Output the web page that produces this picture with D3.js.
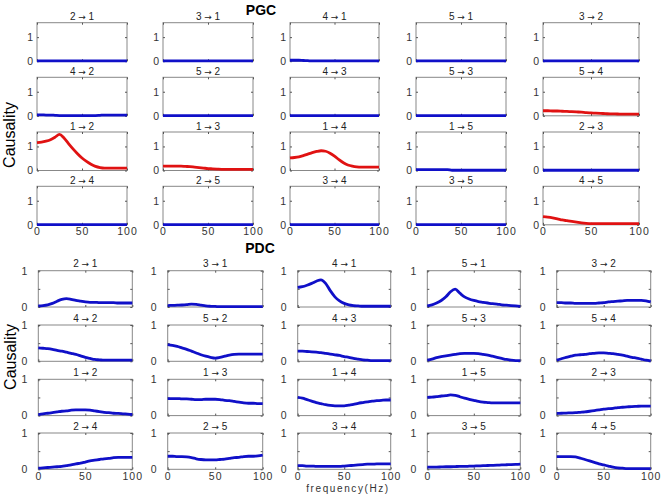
<!DOCTYPE html>
<html>
<head>
<meta charset="utf-8">
<script src="https://cdn.jsdelivr.net/npm/d3@7"></script>
<style>
  body { margin: 0; background: #fff; }
  svg { display: block; font-family: "Liberation Sans", Arial, sans-serif; }
</style>
</head>
<body>
<svg id="chart" width="661" height="496"></svg>
<script>
// ---------------- DATA ----------------
const freq = [0,5,10,15,20,25,30,35,40,45,50,55,60,65,70,75,80,85,90,95,100];

const pairs = [
  "2 → 1","3 → 1","4 → 1","5 → 1","3 → 2",
  "4 → 2","5 → 2","4 → 3","5 → 3","5 → 4",
  "1 → 2","1 → 3","1 → 4","1 → 5","2 → 3",
  "2 → 4","2 → 5","3 → 4","3 → 5","4 → 5"
];

const pgcXTicks = [0, 50, 100];
const pgcYTicks = [0, 1];
const pdcYTicks = [0, 0.5, 1];

// PGC: significant (red) connections
const pgcRed = ["5 → 4","1 → 2","1 → 3","1 → 4","4 → 5"];

const Z = 0.01;
const pgcValues = {
  "2 → 1": [Z,Z,Z,Z,Z,Z,Z,Z,Z,Z,Z,Z,Z,Z,Z,Z,Z,Z,Z,Z,Z],
  "3 → 1": [Z,Z,Z,Z,Z,Z,Z,Z,Z,Z,Z,Z,Z,Z,Z,Z,Z,Z,Z,Z,Z],
  "4 → 1": [0.04,0.04,0.04,0.03,0.02,Z,Z,Z,Z,Z,Z,Z,Z,Z,Z,Z,Z,Z,Z,Z,Z],
  "5 → 1": [Z,Z,Z,Z,Z,Z,Z,Z,Z,Z,Z,Z,Z,Z,Z,Z,Z,Z,Z,Z,Z],
  "3 → 2": [Z,Z,Z,Z,Z,Z,Z,Z,Z,Z,Z,Z,Z,Z,Z,Z,Z,Z,Z,Z,Z],
  "4 → 2": [0.04,0.04,0.03,0.03,0.02,Z,Z,Z,Z,Z,Z,Z,Z,Z,0.02,0.03,0.03,0.03,0.03,0.03,0.03],
  "5 → 2": [Z,Z,Z,Z,Z,Z,Z,Z,Z,Z,Z,Z,Z,Z,Z,Z,Z,Z,Z,Z,Z],
  "4 → 3": [Z,Z,Z,Z,Z,Z,Z,Z,Z,Z,Z,Z,Z,Z,Z,Z,Z,Z,Z,Z,Z],
  "5 → 3": [Z,Z,Z,Z,Z,Z,Z,Z,Z,Z,Z,Z,Z,Z,Z,Z,Z,Z,Z,Z,Z],
  "5 → 4": [0.21,0.21,0.2,0.2,0.19,0.18,0.17,0.16,0.15,0.13,0.12,0.11,0.1,0.09,0.08,0.08,0.07,0.07,0.07,0.07,0.07],
  "1 → 2": [1.16,1.18,1.22,1.28,1.38,1.5,1.35,1.12,0.9,0.7,0.52,0.38,0.26,0.17,0.12,0.1,0.1,0.1,0.1,0.1,0.1],
  "1 → 3": [0.18,0.18,0.18,0.18,0.18,0.17,0.16,0.14,0.12,0.1,0.08,0.07,0.06,0.05,0.05,0.05,0.05,0.05,0.05,0.05,0.05],
  "1 → 4": [0.52,0.54,0.57,0.62,0.68,0.74,0.79,0.82,0.8,0.72,0.6,0.45,0.32,0.23,0.18,0.15,0.14,0.14,0.14,0.14,0.14],
  "1 → 5": [0.04,0.04,0.04,0.04,0.04,0.04,0.04,0.04,Z,Z,Z,Z,Z,Z,Z,Z,Z,Z,Z,Z,Z],
  "2 → 3": [Z,Z,Z,Z,Z,Z,Z,Z,Z,Z,Z,Z,Z,Z,Z,Z,Z,Z,Z,Z,Z],
  "2 → 4": [Z,Z,Z,Z,Z,Z,Z,Z,Z,Z,Z,Z,Z,Z,Z,Z,Z,Z,Z,Z,Z],
  "2 → 5": [Z,Z,Z,Z,Z,Z,Z,Z,Z,Z,Z,Z,Z,Z,Z,Z,Z,Z,Z,Z,Z],
  "3 → 4": [Z,Z,Z,Z,Z,Z,Z,Z,Z,Z,Z,Z,Z,Z,Z,Z,Z,Z,Z,Z,Z],
  "3 → 5": [Z,Z,Z,Z,Z,Z,Z,Z,Z,Z,Z,Z,Z,Z,Z,Z,Z,Z,Z,Z,Z],
  "4 → 5": [0.34,0.32,0.29,0.25,0.2,0.17,0.14,0.11,0.08,0.06,0.05,0.05,0.05,0.05,0.05,0.05,0.05,0.05,0.05,0.05,0.05]
};

const pdcValues = {
  "2 → 1": [0.03,0.04,0.06,0.1,0.16,0.21,0.23,0.21,0.18,0.16,0.14,0.13,0.13,0.12,0.12,0.12,0.12,0.11,0.11,0.11,0.11],
  "3 → 1": [0.04,0.045,0.05,0.055,0.065,0.08,0.07,0.05,0.03,0.02,0.015,0.01,0.01,0.01,0.01,0.01,0.01,0.01,0.01,0.01,0.01],
  "4 → 1": [0.54,0.56,0.6,0.65,0.71,0.75,0.65,0.45,0.28,0.17,0.1,0.06,0.04,0.03,0.02,0.02,0.02,0.02,0.02,0.02,0.02],
  "5 → 1": [0.03,0.06,0.11,0.18,0.28,0.42,0.49,0.38,0.28,0.22,0.18,0.15,0.13,0.11,0.09,0.08,0.06,0.05,0.04,0.03,0.02],
  "3 → 2": [0.12,0.12,0.11,0.11,0.1,0.1,0.1,0.1,0.1,0.11,0.12,0.14,0.15,0.16,0.17,0.18,0.18,0.18,0.18,0.17,0.14],
  "4 → 2": [0.37,0.36,0.35,0.33,0.3,0.28,0.25,0.22,0.19,0.15,0.11,0.08,0.05,0.04,0.03,0.03,0.03,0.03,0.03,0.03,0.03],
  "5 → 2": [0.46,0.44,0.41,0.37,0.33,0.28,0.23,0.18,0.14,0.11,0.09,0.11,0.14,0.17,0.19,0.2,0.2,0.2,0.2,0.2,0.2],
  "4 → 3": [0.28,0.28,0.27,0.26,0.25,0.24,0.22,0.2,0.18,0.16,0.13,0.11,0.08,0.06,0.04,0.03,0.02,0.02,0.02,0.02,0.02],
  "5 → 3": [0.03,0.06,0.1,0.13,0.15,0.17,0.19,0.21,0.22,0.22,0.22,0.21,0.19,0.17,0.14,0.11,0.08,0.05,0.03,0.02,0.02],
  "5 → 4": [0.03,0.07,0.11,0.14,0.17,0.18,0.19,0.21,0.22,0.23,0.23,0.22,0.21,0.19,0.17,0.14,0.11,0.09,0.06,0.03,0.01],
  "1 → 2": [0.03,0.05,0.065,0.08,0.1,0.12,0.13,0.15,0.16,0.16,0.16,0.15,0.13,0.11,0.09,0.08,0.065,0.06,0.05,0.04,0.03],
  "1 → 3": [0.47,0.47,0.47,0.46,0.46,0.45,0.44,0.44,0.45,0.45,0.45,0.44,0.42,0.41,0.39,0.37,0.35,0.34,0.34,0.33,0.33],
  "1 → 4": [0.5,0.48,0.44,0.4,0.36,0.33,0.3,0.28,0.27,0.27,0.27,0.29,0.31,0.34,0.36,0.38,0.4,0.41,0.42,0.43,0.43],
  "1 → 5": [0.5,0.51,0.52,0.54,0.55,0.57,0.56,0.52,0.48,0.45,0.42,0.39,0.37,0.36,0.35,0.35,0.35,0.35,0.35,0.35,0.35],
  "2 → 3": [0.06,0.065,0.07,0.075,0.08,0.09,0.1,0.12,0.14,0.16,0.18,0.19,0.2,0.22,0.23,0.24,0.25,0.255,0.26,0.26,0.26],
  "2 → 4": [0.03,0.04,0.05,0.06,0.07,0.08,0.1,0.12,0.15,0.17,0.2,0.23,0.25,0.27,0.29,0.3,0.32,0.33,0.33,0.33,0.33],
  "2 → 5": [0.36,0.36,0.35,0.35,0.34,0.32,0.29,0.27,0.26,0.26,0.26,0.27,0.28,0.3,0.32,0.33,0.35,0.36,0.36,0.37,0.39],
  "3 → 4": [0.1,0.1,0.09,0.09,0.08,0.08,0.08,0.08,0.08,0.08,0.09,0.1,0.11,0.12,0.13,0.14,0.14,0.15,0.15,0.15,0.15],
  "3 → 5": [0.06,0.06,0.06,0.065,0.07,0.07,0.075,0.08,0.08,0.085,0.09,0.095,0.1,0.105,0.11,0.115,0.12,0.125,0.13,0.135,0.14],
  "4 → 5": [0.35,0.35,0.35,0.35,0.34,0.31,0.27,0.23,0.19,0.15,0.12,0.09,0.06,0.04,0.03,0.02,0.02,0.02,0.02,0.02,0.02]
};

// ---------------- LAYOUT ----------------
const BLUE = "#1010c8", RED = "#e01212", FRAME = "#888", TXT = "#333";

const pgcLayout = {
  colX: [37, 163, 290, 416, 543], colW: [90, 90, 89, 90, 96],
  rowY: [22.7, 77.3, 132, 186.3], h: 38.5, ymax: 1.6,
  yTicks: pgcYTicks, yPad: 4, xPad: 3, titleGap: 2.5
};
const pdcLayout = {
  colX: [38.3, 167.7, 297.7, 427.3, 556.7], colW: [94, 95, 93, 93, 94],
  rowY: [270.7, 325, 379.3, 433], h: 36.3, ymax: 1,
  yTicks: pdcYTicks, yPad: 11, xPad: 3, titleGap: 3.5
};

const svg = d3.select("#chart");

function drawSection(layout, values, colorOf) {
  pairs.forEach((p, i) => {
    const r = Math.floor(i / 5), c = i % 5;
    const x0 = layout.colX[c], w = layout.colW[c];
    const y0 = layout.rowY[r], h = layout.h;
    const x = d3.scaleLinear().domain([0, 100]).range([x0, x0 + w]);
    const y = d3.scaleLinear().domain([0, layout.ymax]).range([y0 + h, y0]);
    const g = svg.append("g");

    // frame
    g.append("rect").attr("x", x0).attr("y", y0).attr("width", w).attr("height", h)
      .attr("fill", "none").attr("stroke", FRAME).attr("stroke-width", 1);

    const bottom = r === 3;
    const axB = d3.axisBottom(x).tickValues(pgcXTicks).tickSize(-2).tickPadding(layout.xPad)
      .tickFormat(bottom ? d3.format("d") : () => "");
    const axT = d3.axisTop(x).tickValues(pgcXTicks).tickSize(-2).tickFormat(() => "");
    const axL = d3.axisLeft(y).tickValues(layout.yTicks).tickSize(-2).tickPadding(layout.yPad)
      .tickFormat(v => (v === 0 || v === 1) ? String(v) : "");
    const axR = d3.axisRight(y).tickValues(layout.yTicks).tickSize(-2).tickFormat(() => "");

    const style = sel => {
      sel.select(".domain").remove();
      sel.selectAll(".tick line").attr("stroke", "#555");
      sel.selectAll(".tick text").attr("fill", TXT).style("font-size", "10.5px")
        .style("font-family", "'Liberation Sans', Arial, sans-serif");
    };
    g.append("g").attr("transform", `translate(0,${y0 + h})`).call(axB).call(style)
      .selectAll(".tick text").style("letter-spacing", "1px");
    g.append("g").attr("transform", `translate(0,${y0})`).call(axT).call(style);
    g.append("g").attr("transform", `translate(${x0},0)`).call(axL).call(style);
    g.append("g").attr("transform", `translate(${x0 + w},0)`).call(axR).call(style);

    // title: "a → b" with a long arrow glyph
    const parts = p.split(" → ");
    const t = g.append("text").attr("x", x0 + w / 2).attr("y", y0 - layout.titleGap)
      .attr("text-anchor", "middle").attr("fill", "#222").style("font-size", "10px");
    t.append("tspan").text(parts[0] + " ");
    t.append("tspan").style("font-family", "'DejaVu Sans', sans-serif").style("font-size", "9px").text("→");
    t.append("tspan").text(" " + parts[1]);

    // line
    const line = d3.line().x((d, k) => x(freq[k])).y(d => y(d)).curve(d3.curveMonotoneX);
    g.append("path").datum(values[p]).attr("d", line)
      .attr("fill", "none").attr("stroke", colorOf(p)).attr("stroke-width", 2.8)
      .attr("stroke-linejoin", "round").attr("stroke-linecap", "butt");
  });
}

drawSection(pgcLayout, pgcValues, p => pgcRed.includes(p) ? RED : BLUE);
drawSection(pdcLayout, pdcValues, () => BLUE);

// section titles
svg.append("text").attr("x", 261).attr("y", 15).attr("text-anchor", "middle")
  .style("font-weight", "bold").style("font-size", "14px").text("PGC");
svg.append("text").attr("x", 260).attr("y", 253).attr("text-anchor", "middle")
  .style("font-weight", "bold").style("font-size", "14px").text("PDC");

// y labels
[[9, 135], [10, 357]].forEach(([cx, cy]) => {
  svg.append("text").attr("transform", `translate(${cx + 6},${cy}) rotate(-90)`)
    .attr("text-anchor", "middle").style("font-size", "16px").attr("fill", "#000")
    .text("Causality");
});

// x label
svg.append("text").attr("x", 348).attr("y", 492).attr("text-anchor", "middle")
  .style("font-size", "10px").style("letter-spacing", "1.6px").attr("fill", TXT)
  .text("frequency(Hz)");
</script>
</body>
</html>
